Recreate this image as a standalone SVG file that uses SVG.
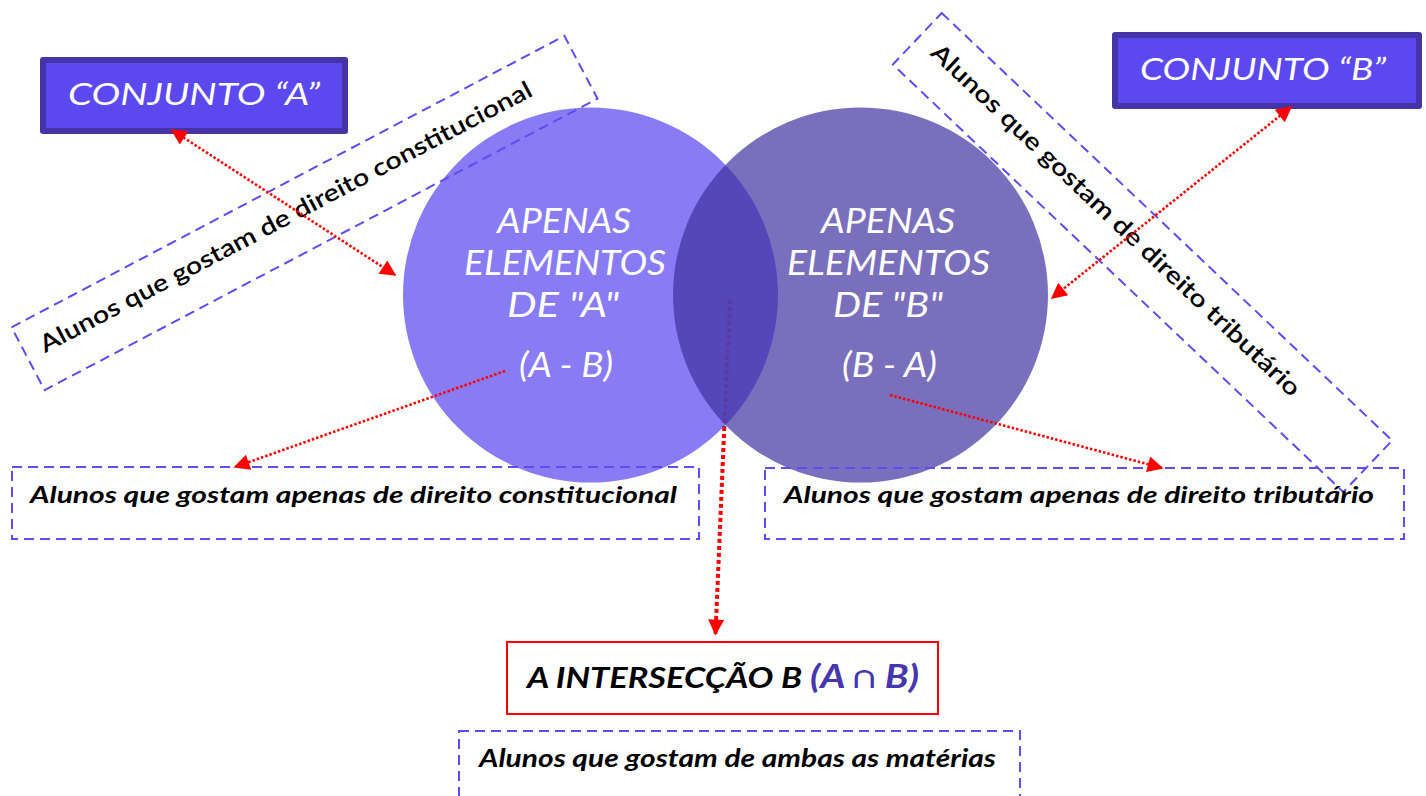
<svg xmlns="http://www.w3.org/2000/svg" width="1426" height="796" viewBox="0 0 1426 796">
<defs>
<marker id="ah" viewBox="0 0 10 10" refX="9" refY="5" markerUnits="userSpaceOnUse" markerWidth="18" markerHeight="16" orient="auto-start-reverse">
<path d="M0,0 L10,5 L0,10 z" fill="#FF0000"/>
</marker>
<style>
.dash{fill:none;stroke:#5E4BF2;stroke-width:2;stroke-dasharray:10 6;}
.dot{fill:none;stroke:#FF0000;stroke-width:2.6;stroke-dasharray:2.5 2;}
.dotb{fill:none;stroke:#FF0000;stroke-width:4;stroke-dasharray:4 3;}
.ct{font-family:Lato,"Open Sans",sans-serif;font-style:italic;font-size:35px;fill:#FFFFFF;}
.bt{font-family:Lato,"Open Sans",sans-serif;font-style:italic;font-weight:700;fill:#000000;}
.rt{font-family:Lato,"Open Sans",sans-serif;font-weight:600;font-size:24px;fill:#000000;}
.cj{font-family:Lato,"Open Sans",sans-serif;font-style:italic;font-size:31px;fill:#FFFFFF;}
</style>
</defs>
<rect width="1426" height="796" fill="#FFFFFF"/>

<g id="circleA">
<circle cx="590.5" cy="295" r="187.5" fill="#6A5AF0" fill-opacity="0.8"/>
<text class="ct" x="497" y="233" textLength="134" lengthAdjust="spacingAndGlyphs">APENAS</text>
<text class="ct" x="464" y="275" textLength="202" lengthAdjust="spacingAndGlyphs">ELEMENTOS</text>
<text class="ct" x="507" y="317" textLength="112" lengthAdjust="spacingAndGlyphs">DE "A"</text>
<text class="ct" x="519" y="377" textLength="94" lengthAdjust="spacingAndGlyphs">(A - B)</text>
</g>
<g id="circleB">
<circle cx="860.5" cy="295" r="187.5" fill="#3E2E9F" fill-opacity="0.69"/>
<text class="ct" x="821" y="233" textLength="134" lengthAdjust="spacingAndGlyphs">APENAS</text>
<text class="ct" x="787" y="275" textLength="203" lengthAdjust="spacingAndGlyphs">ELEMENTOS</text>
<text class="ct" x="833" y="317" textLength="110" lengthAdjust="spacingAndGlyphs">DE "B"</text>
<text class="ct" x="842" y="377" textLength="95" lengthAdjust="spacingAndGlyphs">(B - A)</text>
</g>

<g id="conjuntoA">
<rect x="40" y="57" width="308" height="77" rx="3" fill="#4534A6"/>
<rect x="46" y="63" width="296" height="65" fill="#5B48EF"/>
<text class="cj" x="194" y="105" text-anchor="middle" textLength="252" lengthAdjust="spacingAndGlyphs">CONJUNTO “A”</text>
</g>
<g id="conjuntoB">
<rect x="1112" y="32" width="310" height="77" rx="3" fill="#4534A6"/>
<rect x="1118" y="38" width="298" height="65" fill="#5B48EF"/>
<text class="cj" x="1263" y="80" text-anchor="middle" textLength="246" lengthAdjust="spacingAndGlyphs">CONJUNTO “B”</text>
</g>

<g id="labelA" transform="translate(304.5 213) rotate(-27.8)">
<rect class="dash" x="-312.5" y="-35.5" width="625" height="71"/>
<text class="rt" x="-295" y="3" textLength="553" lengthAdjust="spacingAndGlyphs">Alunos que gostam de direito constitucional</text>
</g>
<g id="labelB" transform="translate(1142.5 252.5) rotate(43.5)">
<rect class="dash" x="-310.5" y="-35.5" width="621" height="71"/>
<text class="rt" x="-291" y="3" textLength="499" lengthAdjust="spacingAndGlyphs">Alunos que gostam de direito tributário</text>
</g>

<g id="onlyA">
<rect class="dash" x="12" y="467" width="687" height="72"/>
<text class="bt" x="30" y="503" font-size="23" textLength="647" lengthAdjust="spacingAndGlyphs">Alunos que gostam apenas de direito constitucional</text>
</g>
<g id="onlyB">
<rect class="dash" x="765" y="468" width="639" height="71"/>
<text class="bt" x="784" y="503" font-size="23" textLength="590" lengthAdjust="spacingAndGlyphs">Alunos que gostam apenas de direito tributário</text>
</g>

<g id="intersection">
<rect x="507" y="642" width="431" height="72" fill="#FFFFFF" stroke="#FF0000" stroke-width="2"/>
<text class="bt" x="527" y="688" font-size="28" textLength="275" lengthAdjust="spacingAndGlyphs">A INTERSECÇÃO B</text>
<text x="810" y="688" font-family="Lato,'DejaVu Sans',sans-serif" font-style="italic" font-weight="700" font-size="32" fill="#4636B0" textLength="109" lengthAdjust="spacingAndGlyphs">(A ∩ B)</text>
</g>
<g id="both">
<rect class="dash" x="459" y="731" width="561" height="80"/>
<text class="bt" x="479" y="767" font-size="25" textLength="517" lengthAdjust="spacingAndGlyphs">Alunos que gostam de ambas as matérias</text>
</g>

<g id="connectors">
<path d="M730,300 L724.3,427" fill="none" stroke="#5A3BA2" stroke-width="4" stroke-dasharray="4 3"/>
<path class="dotb" d="M724.3,427 L715.5,634" marker-end="url(#ah)"/>
<path class="dot" d="M172,130 L395,275" marker-start="url(#ah)" marker-end="url(#ah)"/>
<path class="dot" d="M1291,107 L1052,298" marker-start="url(#ah)" marker-end="url(#ah)"/>
<path class="dot" d="M505,371 L235,467" marker-end="url(#ah)"/>
<path class="dot" d="M890,395 L1162,468" marker-end="url(#ah)"/>
</g>
</svg>
